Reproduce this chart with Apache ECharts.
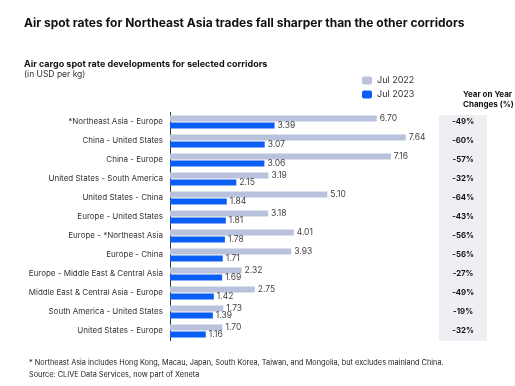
<!DOCTYPE html>
<html><head><meta charset="utf-8">
<script src="https://cdn.jsdelivr.net/npm/echarts@6/dist/echarts.min.js"></script>
<style>html,body{margin:0;padding:0;background:#fff}#c{width:515px;height:386px}</style>
</head><body><div id="c"></div>
<script>
var categories = ["*Northeast Asia - Europe","China - United States","China - Europe","United States - South America","United States - China","Europe - United States","Europe - *Northeast Asia","Europe - China","Europe - Middle East & Central Asia","Middle East & Central Asia - Europe","South America - United States","United States - Europe"];
var jul2022 = [6.70,7.64,7.16,3.19,5.10,3.18,4.01,3.93,2.32,2.75,1.73,1.70];
var jul2023 = [3.39,3.07,3.06,2.15,1.84,1.81,1.78,1.71,1.69,1.42,1.39,1.16];
var yoyLabels = ["-49%","-60%","-57%","-32%","-64%","-43%","-56%","-56%","-27%","-49%","-19%","-32%"];

var FONT = 'Inter';
var chart = echarts.init(document.getElementById('c'), null, {renderer:'canvas'});
var lbl = {show:true, position:'right', distance:3, fontSize:8.5, color:'#444', fontFamily:FONT,
  formatter:function(p){return p.value.toFixed(2);}};
chart.setOption({
  animation:false,
  textStyle:{fontFamily:FONT},
  graphic:[
    {type:'text', left:24, top:17, style:{text:'Air spot rates for Northeast Asia trades fall sharper than the other corridors', font:'bold 12px Inter', fill:'#111'}},
    {type:'text', left:24, top:60, style:{text:'Air cargo spot rate developments for selected corridors', font:'bold 9px Inter', fill:'#111'}},
    {type:'text', left:24, top:70, style:{text:'(in USD per kg)', font:'8.5px Inter', fill:'#333'}},
    {type:'text', left:463, top:90, style:{text:'Year on Year\nChanges (%)', font:'bold 8px Inter', fill:'#111', align:'center', lineHeight:9.5}},
    {type:'rect', left:439, top:115, z:-1, shape:{width:48, height:226}, style:{fill:'#eeeff2'}},
    {type:'text', left:29, top:357, style:{text:'* Northeast Asia includes Hong Kong, Macau, Japan, South Korea, Taiwan, and Mongolia, but excludes mainland China.\nSource: CLIVE Data Services, now part of Xeneta', font:'7.35px Inter', fill:'#222', lineHeight:12}}
  ],
  legend:{orient:'vertical', left:357, top:71, itemWidth:10, itemHeight:8, itemGap:5,
    textStyle:{fontSize:9, color:'#333', fontFamily:FONT}, data:['Jul 2022','Jul 2023']},
  grid:{left:170, right:67.4, top:112.5, bottom:45.5},
  xAxis:{type:'value', min:0, max:9, show:false},
  yAxis:[
    {type:'category', data:categories, inverse:true,
     axisLine:{show:true, lineStyle:{color:'#333', width:1}}, axisTick:{show:false},
     axisLabel:{fontSize:8, color:'#333', margin:7, fontFamily:FONT}},
    {type:'category', data:yoyLabels, inverse:true, position:'right',
     axisLine:{show:false}, axisTick:{show:false},
     axisLabel:{fontSize:7.8, fontWeight:'bold', color:'#111', margin:15.5, align:'center', fontFamily:FONT}}
  ],
  series:[
    {name:'Jul 2022', type:'bar', data:jul2022, barWidth:6, barGap:'15%', itemStyle:{color:'#b9c2dc'}, label:lbl},
    {name:'Jul 2023', type:'bar', data:jul2023, barWidth:6, barGap:'15%', itemStyle:{color:'#0a5ef5'}, label:lbl}
  ]
});
</script></body></html>
